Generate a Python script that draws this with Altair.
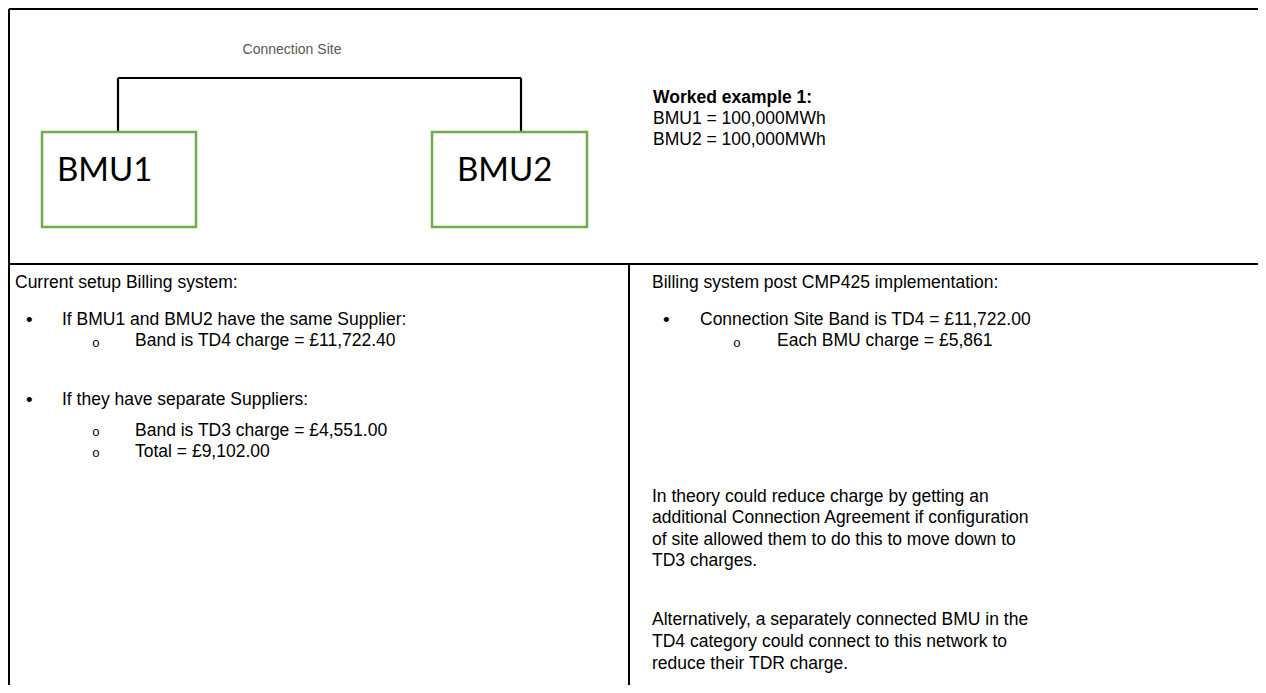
import altair as alt
import pandas as pd

# ---- content -------------------------------------------------------------
box_labels = ["BMU1", "BMU2"]
site_label = ["Connection Site"]
example_title = ["Worked example 1:"]
example_lines = ["BMU1 = 100,000MWh", "BMU2 = 100,000MWh"]

left_heading = ["Current setup Billing system:"]
left_bullets = ["If BMU1 and BMU2 have the same Supplier:", "If they have separate Suppliers:"]
left_subs = ["Band is TD4 charge = £11,722.40", "Band is TD3 charge = £4,551.00", "Total = £9,102.00"]

right_heading = ["Billing system post CMP425 implementation:"]
right_bullets = ["Connection Site Band is TD4 = £11,722.00"]
right_subs = ["Each BMU charge = £5,861"]
right_para = [
    "In theory could reduce charge by getting an",
    "additional Connection Agreement if configuration",
    "of site allowed them to do this to move down to",
    "TD3 charges.",
    "",
    "Alternatively, a separately connected BMU in the",
    "TD4 category could connect to this network to",
    "reduce their TDR charge.",
]

# ---- layout (page pixel coordinates) --------------------------------------
W, H = 1250, 677
X0, Y0 = 8, 8
xs = alt.Scale(domain=[X0, X0 + W], nice=False, zero=False)
ys = alt.Scale(domain=[Y0, Y0 + H], nice=False, zero=False, reverse=True)

def X(f):
    return alt.X(f, type="quantitative", scale=xs, axis=None)

def Y(f):
    return alt.Y(f, type="quantitative", scale=ys, axis=None)

table_lines = pd.DataFrame({
    "x": [9, 9, 9, 629],
    "x2": [1258, 9, 1258, 629],
    "y": [9, 9, 264, 264],
    "y2": [9, 685, 264, 685],
})
conn_lines = pd.DataFrame({
    "x": [118, 118, 521],
    "x2": [521, 118, 521],
    "y": [78, 78, 78],
    "y2": [78, 132, 132],
})
boxes = pd.DataFrame({"x": [42, 432], "x2": [196, 587], "y": [132, 132], "y2": [227, 227]})

def text_df(labels, xpos, ypos):
    return pd.DataFrame({"t": labels, "x": xpos, "y": ypos})

FONT = "Liberation Sans"
FS = 17.5

layers = []
layers.append(alt.Chart(table_lines).mark_rule(color="black", strokeWidth=2).encode(
    x=X("x"), x2="x2", y=Y("y"), y2="y2"))
layers.append(alt.Chart(conn_lines).mark_rule(color="black", strokeWidth=2.2).encode(
    x=X("x"), x2="x2", y=Y("y"), y2="y2"))
layers.append(alt.Chart(boxes).mark_rect(fill="white", stroke="#70AD47", strokeWidth=2.5).encode(
    x=X("x"), x2="x2", y=Y("y"), y2="y2"))

def txt(df, size=FS, weight="normal", color="black", font=FONT, align="left"):
    return alt.Chart(df).mark_text(align=align, baseline="middle", fontSize=size,
                                   fontWeight=weight, color=color, font=font).encode(
        x=X("x"), y=Y("y"), text="t:N")

layers.append(txt(text_df(box_labels, [57, 457], [171, 171]), size=33, font="Lato"))
layers.append(txt(text_df(site_label, [292], [50]), size=14, color="#595959", align="center"))
layers.append(txt(text_df(example_title, [653], [98]), weight="bold"))
layers.append(txt(text_df(example_lines, [653, 653], [119, 140])))

layers.append(txt(text_df(left_heading, [15], [283])))
layers.append(txt(text_df(["•", "•"], [26, 26], [320, 400]), size=19))
layers.append(txt(text_df(left_bullets, [62, 62], [320, 400])))
layers.append(txt(text_df(["o", "o", "o"], [92, 92, 92], [343, 432, 453]), size=13, font="Liberation Mono"))
layers.append(txt(text_df(left_subs, [135, 135, 135], [341, 431, 452])))

layers.append(txt(text_df(right_heading, [652], [283])))
layers.append(txt(text_df(["•"], [663], [320]), size=19))
layers.append(txt(text_df(right_bullets, [700], [320])))
layers.append(txt(text_df(["o"], [733], [343]), size=13, font="Liberation Mono"))
layers.append(txt(text_df(right_subs, [777], [341])))
layers.append(txt(text_df(right_para, [652] * 8, [497, 518, 540, 561, 590, 620, 642, 664])))

chart = alt.layer(*layers).properties(
    width=W, height=H, padding=0, autosize=alt.AutoSizeParams(type="none"),
).configure_view(stroke=None).configure(background="white")

chart.save("out.html", embed_options={"renderer": "svg", "actions": False})
